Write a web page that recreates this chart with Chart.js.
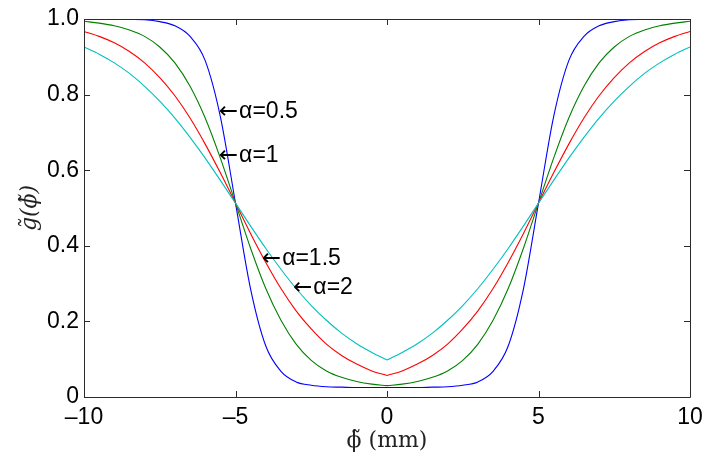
<!DOCTYPE html>
<html>
<head>
<meta charset="utf-8">
<script src="https://cdn.jsdelivr.net/npm/chart.js@4"></script>
<style>
  body { margin: 0; background: #ffffff; }
  canvas { display: block; }
</style>
</head>
<body>
<canvas id="chart" width="714" height="459"></canvas>
<script>
'use strict';

// Abscisses (mm)
const xValues = [
  -10, -9.5, -9, -8.5, -8, -7.5, -7, -6.5, -6, -5.5, -5, -4.5, -4, -3.5, -3, -2.5, -2, -1.5, -1, -0.5,
  0, 0.5, 1, 1.5, 2, 2.5, 3, 3.5, 4, 4.5, 5, 5.5, 6, 6.5, 7, 7.5, 8, 8.5, 9, 9.5, 10
];

// Courbes
const alpha05 = [
  1.000, 1.000, 1.000, 0.999, 0.998, 0.993, 0.982, 0.954, 0.890, 0.742, 0.513, 0.285, 0.135, 0.068, 0.040, 0.031, 0.027, 0.026, 0.025, 0.025,
  0.025, 0.025, 0.025, 0.026, 0.027, 0.031, 0.040, 0.068, 0.135, 0.285, 0.513, 0.742, 0.890, 0.954, 0.982, 0.993, 0.998, 0.999, 1.000, 1.000, 1.000
];
const alpha1 = [
  0.994, 0.989, 0.982, 0.971, 0.954, 0.926, 0.884, 0.822, 0.738, 0.632, 0.513, 0.393, 0.287, 0.203, 0.140, 0.097, 0.069, 0.052, 0.041, 0.034,
  0.030, 0.034, 0.041, 0.052, 0.069, 0.097, 0.140, 0.203, 0.287, 0.393, 0.513, 0.632, 0.738, 0.822, 0.884, 0.926, 0.954, 0.971, 0.982, 0.989, 0.994
];
const alpha15 = [
  0.967, 0.954, 0.937, 0.914, 0.884, 0.845, 0.797, 0.738, 0.669, 0.593, 0.513, 0.432, 0.356, 0.287, 0.228, 0.180, 0.140, 0.110, 0.087, 0.069,
  0.057, 0.069, 0.087, 0.110, 0.140, 0.180, 0.228, 0.287, 0.356, 0.432, 0.513, 0.593, 0.669, 0.738, 0.797, 0.845, 0.884, 0.914, 0.937, 0.954, 0.967
];
const alpha2 = [
  0.926, 0.907, 0.884, 0.856, 0.822, 0.783, 0.738, 0.687, 0.632, 0.573, 0.513, 0.452, 0.393, 0.338, 0.287, 0.242, 0.203, 0.169, 0.141, 0.118,
  0.098, 0.118, 0.141, 0.169, 0.203, 0.242, 0.287, 0.338, 0.393, 0.452, 0.513, 0.573, 0.632, 0.687, 0.738, 0.783, 0.822, 0.856, 0.884, 0.907, 0.926
];

// Ticks
const xTickValues = [-10, -5, 0, 5, 10];
const xTickLabels = ['\u201310', '\u20135', '0', '5', '10'];
const yTickValues = [0, 0.2, 0.4, 0.6, 0.8, 1.0];
const yTickLabels = ['0', '0.2', '0.4', '0.6', '0.8', '1.0'];

// Annotations (position de la pointe de la flèche)
const noteTexts = ['\u03b1=0.5', '\u03b1=1', '\u03b1=1.5', '\u03b1=2'];
const noteX = [-5.55, -5.55, -4.13, -3.10];
const noteY = [0.754, 0.638, 0.365, 0.288];

// Couleurs façon MATLAB
const seriesList = [
  { values: alpha2, color: '#00bfbf' },
  { values: alpha15, color: '#ff0000' },
  { values: alpha1, color: '#008000' },
  { values: alpha05, color: '#0000ff' },
];

const MID = xValues.indexOf(0);

// Chaque courbe est coupée en deux pour garder le pli en 0
const datasets = [];
seriesList.forEach((s) => {
  const pts = xValues.map((x, i) => ({ x: x, y: s.values[i] }));
  [pts.slice(0, MID + 1), pts.slice(MID)].forEach((part) => {
    datasets.push({
      data: part,
      borderColor: s.color,
      borderWidth: 1.1,
      pointRadius: 0,
      fill: false,
      cubicInterpolationMode: 'monotone',
    });
  });
});

const AXIS_COLOR = '#2b2b2b';
const TICK_LEN = 6;

// Cadre et graduations intérieures
const boxTicks = {
  id: 'boxTicks',
  afterDraw(chart) {
    const { ctx, chartArea } = chart;
    const { left, right, top, bottom } = chartArea;
    const xs = chart.scales.x;
    const ys = chart.scales.y;
    ctx.save();
    ctx.strokeStyle = AXIS_COLOR;
    ctx.lineWidth = 1;
    ctx.beginPath();
    ctx.rect(Math.round(left) + 0.5, Math.round(top) + 0.5, Math.round(right - left), Math.round(bottom - top));
    xTickValues.forEach((v) => {
      const px = Math.round(xs.getPixelForValue(v)) + 0.5;
      ctx.moveTo(px, bottom);
      ctx.lineTo(px, bottom - TICK_LEN);
      ctx.moveTo(px, top);
      ctx.lineTo(px, top + TICK_LEN);
    });
    yTickValues.forEach((v) => {
      const py = Math.round(ys.getPixelForValue(v)) + 0.5;
      ctx.moveTo(left, py);
      ctx.lineTo(left + TICK_LEN, py);
      ctx.moveTo(right, py);
      ctx.lineTo(right - TICK_LEN, py);
    });
    ctx.stroke();
    ctx.restore();
  },
};

// Étiquettes alpha avec flèche
const notes = {
  id: 'notes',
  afterDatasetsDraw(chart) {
    const { ctx } = chart;
    const xs = chart.scales.x;
    const ys = chart.scales.y;
    ctx.save();
    ctx.fillStyle = '#000000';
    ctx.textAlign = 'left';
    ctx.textBaseline = 'middle';
    noteTexts.forEach((t, i) => {
      const px = xs.getPixelForValue(noteX[i]);
      const py = ys.getPixelForValue(noteY[i]);
      ctx.font = '23px "DejaVu Sans", sans-serif';
      ctx.fillText('\u2190', px, py);
      const w = ctx.measureText('\u2190').width;
      ctx.font = '23px "Liberation Sans", Arial, sans-serif';
      ctx.fillText(t, px + w + 1, py);
    });
    ctx.restore();
  },
};

new Chart(document.getElementById('chart').getContext('2d'), {
  type: 'line',
  data: { datasets: datasets },
  options: {
    responsive: false,
    animation: false,
    devicePixelRatio: 1,
    layout: { padding: { left: 0, top: 19, right: 24, bottom: 0 } },
    plugins: {
      legend: { display: false },
      tooltip: { enabled: false },
    },
    scales: {
      x: {
        type: 'linear',
        min: -10,
        max: 10,
        afterFit(scale) { scale.height = 62; },
        afterBuildTicks(scale) { scale.ticks = xTickValues.map((v) => ({ value: v })); },
        grid: { display: false, drawTicks: false },
        border: { display: false },
        ticks: {
          padding: 7,
          color: '#000000',
          font: { family: '"Liberation Sans", Arial, sans-serif', size: 23 },
          callback: (v) => xTickLabels[xTickValues.indexOf(v)],
        },
        title: {
          display: true,
          text: '\u03d5\u0303 (mm)',
          color: '#222222',
          padding: { top: 0, bottom: 5 },
          font: { family: '"DejaVu Serif", serif', size: 22 },
        },
      },
      y: {
        type: 'linear',
        min: 0,
        max: 1,
        afterFit(scale) { scale.width = 84; },
        afterBuildTicks(scale) { scale.ticks = yTickValues.map((v) => ({ value: v })); },
        grid: { display: false, drawTicks: false },
        border: { display: false },
        ticks: {
          padding: 5,
          color: '#000000',
          font: { family: '"Liberation Sans", Arial, sans-serif', size: 23 },
          callback: (v) => yTickLabels[yTickValues.findIndex((t) => Math.abs(t - v) < 1e-9)],
        },
        title: {
          display: true,
          text: 'g\u0303(\u03d5\u0303)',
          color: '#222222',
          padding: { top: 17, bottom: 0 },
          font: { family: '"DejaVu Serif", serif', size: 22, style: 'italic' },
        },
      },
    },
  },
  plugins: [boxTicks, notes],
});
</script>
</body>
</html>
